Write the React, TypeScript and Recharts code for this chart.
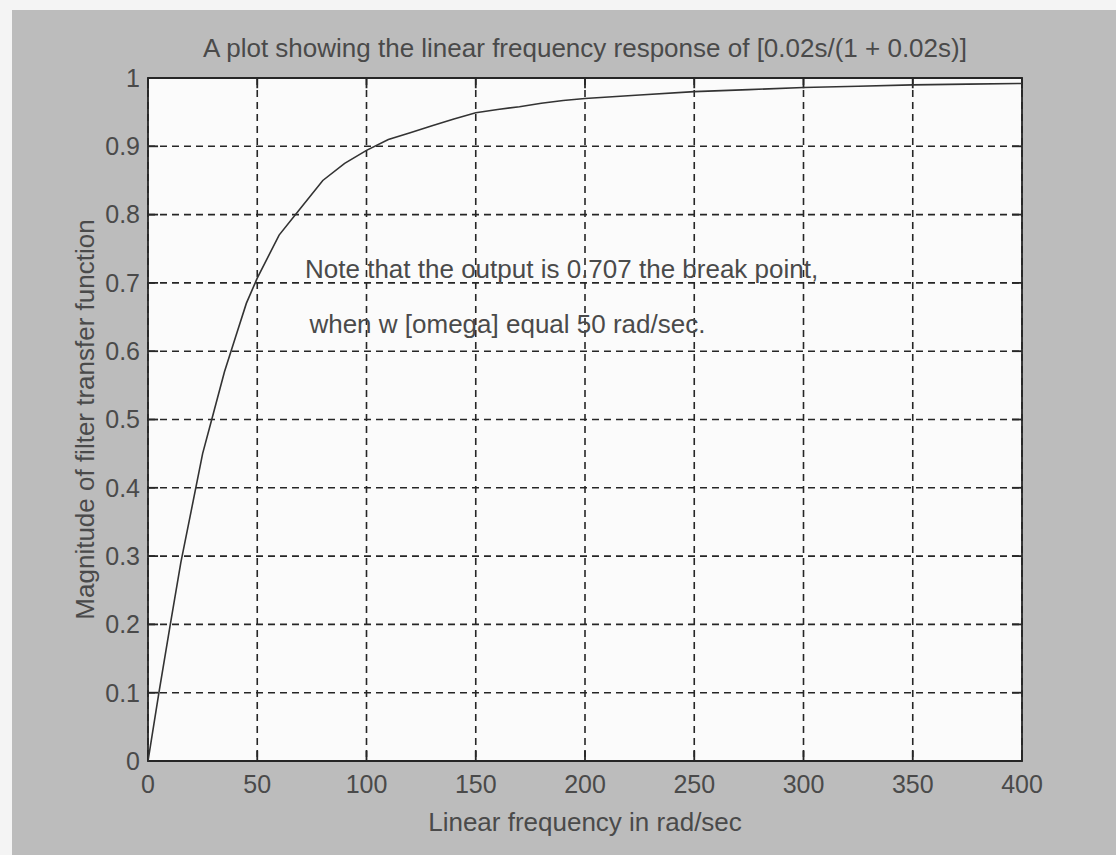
import React from 'react';
import {
  LineChart,
  Line,
  XAxis,
  YAxis,
  CartesianGrid,
  ReferenceLine,
  ReferenceArea,
  ReferenceDot,
} from 'recharts';

// Values
const frequency = [0, 5, 10, 15, 20, 25, 30, 35, 40, 45, 50, 60, 70, 80, 90, 100, 110, 120, 130, 140, 150, 160, 170, 180, 190, 200, 225, 250, 275, 300, 325, 350, 375, 400];
const magnitude = [0, 0.1, 0.196, 0.29, 0.37, 0.45, 0.51, 0.57, 0.62, 0.67, 0.707, 0.77, 0.81, 0.85, 0.875, 0.894, 0.91, 0.92, 0.93, 0.94, 0.949, 0.954, 0.958, 0.963, 0.967, 0.97, 0.975, 0.98, 0.983, 0.986, 0.988, 0.99, 0.991, 0.992];
const xTicks = [0, 50, 100, 150, 200, 250, 300, 350, 400];
const yTicks = [0, 0.1, 0.2, 0.3, 0.4, 0.5, 0.6, 0.7, 0.8, 0.9, 1];
const yTickLabels = ['0', '0.1', '0.2', '0.3', '0.4', '0.5', '0.6', '0.7', '0.8', '0.9', '1'];

const titleText = 'A plot showing the linear frequency response of [0.02s/(1 + 0.02s)]';
const xLabelText = 'Linear frequency in rad/sec';
const yLabelText = 'Magnitude of filter transfer function';
const noteLine1 = 'Note that the output is 0.707  the break point,';
const noteLine2 = 'when w [omega] equal 50 rad/sec.';

const data = frequency.map((w, i) => ({ w, m: magnitude[i] }));

const FONT = '"Liberation Sans", Arial, sans-serif';
const TEXT = '#4a4a4a';
const INK = '#262626';

export default function App() {
  return (
    <div style={{ position: 'absolute', left: 0, top: 0, width: 1116, height: 855, background: '#f4f4f4', overflow: 'hidden' }}>
      <div style={{ position: 'absolute', left: 12, top: 10, width: 1104, height: 845, background: '#bcbcbc' }} />
      <div
        style={{
          position: 'absolute',
          left: 148,
          width: 874,
          top: 33,
          textAlign: 'center',
          fontFamily: FONT,
          fontSize: 26,
          lineHeight: '30px',
          color: TEXT,
          whiteSpace: 'pre',
        }}
      >
        {titleText}
      </div>
      <div style={{ position: 'absolute', left: 0, top: 0 }}>
        <LineChart width={1116} height={855} data={data} margin={{ top: 78, right: 94, bottom: 14, left: 58 }}>
          <CartesianGrid
            fill="#fbfbfb"
            stroke={INK}
            strokeDasharray="7 5"
            strokeWidth={1.6}
            horizontalValues={yTicks}
            verticalValues={xTicks}
          />
          <XAxis
            dataKey="w"
            type="number"
            domain={[0, 400]}
            ticks={xTicks}
            allowDataOverflow
            axisLine={false}
            tickLine={false}
            tickSize={0}
            tickMargin={14}
            height={80}
            tick={{ fill: TEXT, fontSize: 25, fontFamily: FONT }}
            label={{ value: xLabelText, position: 'insideBottom', offset: 10, fill: TEXT, fontSize: 26, fontFamily: FONT }}
          />
          <YAxis
            type="number"
            domain={[0, 1]}
            ticks={yTicks}
            tickFormatter={(v: number) => yTickLabels[yTicks.indexOf(v)] ?? String(v)}
            allowDataOverflow
            axisLine={false}
            tickLine={false}
            tickSize={0}
            tickMargin={8}
            width={90}
            tick={{ fill: TEXT, fontSize: 25, fontFamily: FONT }}
            label={{ value: yLabelText, angle: -90, position: 'center', dx: -18, fill: TEXT, fontSize: 26, fontFamily: FONT }}
          />
          <ReferenceArea x1={0} x2={400} y1={0} y2={1} fill="none" stroke={INK} strokeWidth={1.8} fillOpacity={0} />
          {xTicks.map((t) => (
            <ReferenceLine key={'b' + t} segment={[{ x: t, y: 0 }, { x: t, y: 0.015 }]} stroke={INK} strokeWidth={1.8} />
          ))}
          {xTicks.map((t) => (
            <ReferenceLine key={'t' + t} segment={[{ x: t, y: 1 }, { x: t, y: 0.985 }]} stroke={INK} strokeWidth={1.8} />
          ))}
          {yTicks.map((t) => (
            <ReferenceLine key={'l' + t} segment={[{ x: 0, y: t }, { x: 4.6, y: t }]} stroke={INK} strokeWidth={1.8} />
          ))}
          {yTicks.map((t) => (
            <ReferenceLine key={'r' + t} segment={[{ x: 400, y: t }, { x: 395.4, y: t }]} stroke={INK} strokeWidth={1.8} />
          ))}
          <ReferenceDot
            x={70}
            y={0.72}
            r={0.1}
            fill="none"
            stroke="none"
            label={{ value: noteLine1, position: 'right', offset: 4, fill: TEXT, fontSize: 26, fontFamily: FONT, style: { whiteSpace: 'pre' } }}
          />
          <ReferenceDot
            x={72}
            y={0.64}
            r={0.1}
            fill="none"
            stroke="none"
            label={{ value: noteLine2, position: 'right', offset: 4, fill: TEXT, fontSize: 26, fontFamily: FONT }}
          />
          <Line
            type="linear"
            dataKey="m"
            stroke="#333333"
            strokeWidth={1.6}
            dot={false}
            isAnimationActive={false}
          />
        </LineChart>
      </div>
    </div>
  );
}
